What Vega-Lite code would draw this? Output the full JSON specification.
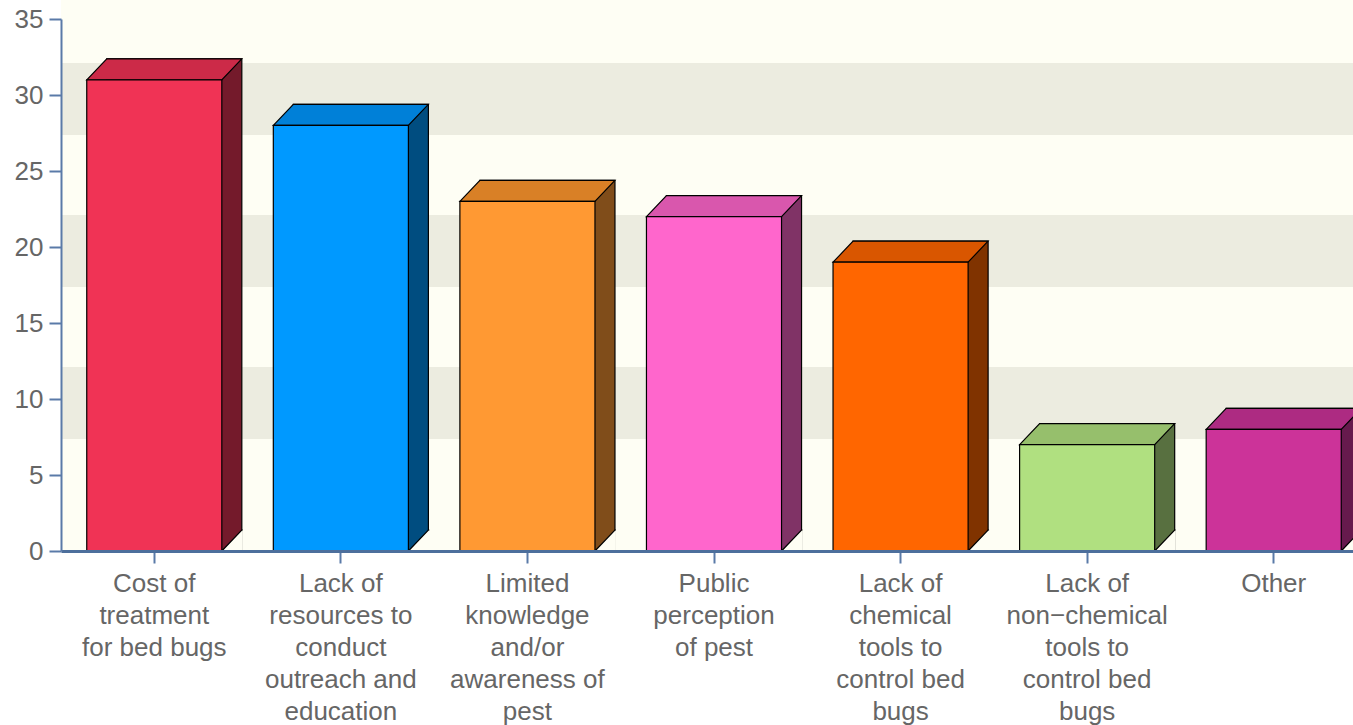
{
  "$schema": "https://vega.github.io/schema/vega-lite/v6.json",
  "autosize": "none",
  "width": 1292,
  "height": 532,
  "padding": {"left": 61, "top": 19, "right": 0, "bottom": 174},
  "background": "#ffffff",
  "view": {"stroke": null},
  "config": {"font": "Liberation Sans"},
  "resolve": {"scale": {"color": "independent"}},
  "layer": [
    {
      "data": {"values": [
        {"lo": 0, "hi": 36.3, "tone": "light"},
        {"lo": 27.37, "hi": 32.1, "tone": "dark"},
        {"lo": 17.37, "hi": 22.1, "tone": "dark"},
        {"lo": 7.37, "hi": 12.1, "tone": "dark"}
      ]},
      "mark": {"type": "rect"},
      "encoding": {
        "y": {"field": "lo", "type": "quantitative",
          "scale": {"domain": [0, 35], "nice": false, "zero": true},
          "axis": {"values": [0, 5, 10, 15, 20, 25, 30, 35], "title": null, "grid": false,
            "zindex": 1, "domainColor": "#5a7aa8", "domainWidth": 2, "tickColor": "#5a7aa8",
            "tickWidth": 2, "tickSize": 12, "labelFontSize": 26, "labelColor": "#666666",
            "labelPadding": 6, "labelFont": "Liberation Sans"}},
        "y2": {"field": "hi"},
        "color": {"field": "tone", "type": "nominal", "legend": null,
          "scale": {"domain": ["light", "dark"], "range": ["#fefef4", "#ecece0"]}}
      }
    },
    {
      "data": {"values": [
        {"cause": "Cost of\ntreatment\nfor bed bugs", "count": 31},
        {"cause": "Lack of\nresources to\nconduct\noutreach and\neducation", "count": 28},
        {"cause": "Limited\nknowledge\nand/or\nawareness of\npest", "count": 23},
        {"cause": "Public\nperception\nof pest", "count": 22},
        {"cause": "Lack of\nchemical\ntools to\ncontrol bed\nbugs", "count": 19},
        {"cause": "Lack of\nnon−chemical\ntools to\ncontrol bed\nbugs", "count": 7},
        {"cause": "Other", "count": 8}
      ]},
      "resolve": {"scale": {"color": "independent"}},
      "encoding": {
        "x": {"field": "cause", "type": "nominal", "sort": null,
          "scale": {"range": [0, 1306], "paddingInner": 0.276, "paddingOuter": 0.138},
          "axis": {"title": null, "zindex": 1, "domainColor": "#4d6f9c", "domainWidth": 3,
            "tickColor": "#5a7aa8", "tickWidth": 2, "tickSize": 12, "labelAngle": 0,
            "labelFontSize": 26, "labelColor": "#666666", "labelLineHeight": 32,
            "labelBaseline": "top", "labelPadding": 7, "labelLimit": 400,
            "labelOverlap": false, "labelBound": false, "labelFont": "Liberation Sans",
            "labelExpr": "split(datum.label, '\\n')"}}
      },
      "layer": [
        {
          "mark": {"type": "bar", "xOffset": 20, "yOffset": -21, "y2Offset": 0,
            "stroke": "#000000", "strokeWidth": 1.2},
          "encoding": {
            "y": {"field": "count", "type": "quantitative", "stack": null},
            "y2": {"datum": 0},
            "color": {"field": "cause", "type": "nominal", "sort": null, "legend": null,
              "scale": {"range": ["#741a2b", "#004d80", "#804d1a", "#803366", "#803300", "#587040", "#661a4d"]}}
          }
        },
        {
          "mark": {"type": "point", "shape": "M 1.1 1.05 L -1 1.05 L 1 -1.05 L 1.1 -1.05", "size": 400,
            "filled": true, "fill": "#fefef4", "opacity": 1, "stroke": "#000000", "strokeWidth": 1.2,
            "xOffset": 77.5, "yOffset": -10.5},
          "encoding": {
            "y": {"datum": 0, "type": "quantitative"}
          }
        },
        {
          "mark": {"type": "point", "shape": "M -1 0.1355 L 0.742 0.1355 L 1 -0.1355 L -0.742 -0.1355 Z",
            "size": 24025, "filled": true, "opacity": 1, "stroke": "#000000", "strokeWidth": 1.2,
            "xOffset": 10, "yOffset": -10.5},
          "encoding": {
            "y": {"field": "count", "type": "quantitative"},
            "color": {"field": "cause", "type": "nominal", "sort": null, "legend": null,
              "scale": {"range": ["#cc2a48", "#0080d8", "#d98026", "#d957ad", "#d95600", "#96bf6c", "#ad2b82"]}}
          }
        },
        {
          "mark": {"type": "bar", "stroke": "#000000", "strokeWidth": 1.2},
          "encoding": {
            "y": {"field": "count", "type": "quantitative", "stack": null},
            "y2": {"datum": 0},
            "color": {"field": "cause", "type": "nominal", "sort": null, "legend": null,
              "scale": {"range": ["#f03355", "#0099ff", "#ff9933", "#ff66cc", "#ff6600", "#b0e080", "#cc3399"]}}
          }
        }
      ]
    }
  ]
}
